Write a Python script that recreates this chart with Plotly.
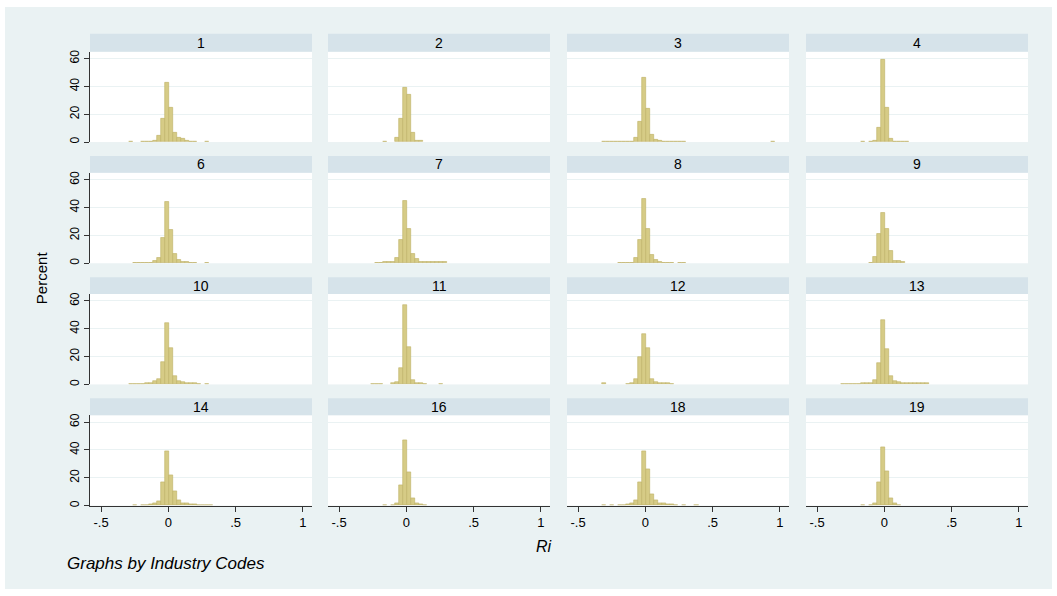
import plotly.graph_objects as go

W, H = 1057, 596

# ---------------- data ----------------
industry_codes = ["1", "2", "3", "4", "6", "7", "8", "9", "10", "11", "12", "13", "14", "16", "18", "19"]

# histogram bin centres (Ri), bin width 0.03
bin_centers = [-0.31, -0.28, -0.25, -0.22, -0.19, -0.16, -0.13, -0.10, -0.07, -0.04, -0.01,
               0.02, 0.05, 0.08, 0.11, 0.14, 0.17, 0.20, 0.23, 0.26, 0.29, 0.32, 0.35, 0.38, 0.95]
bin_width = 0.03

pct_1 = [0, 0.3, 0, 0, 0.3, 0.3, 0.5, 1, 4.5, 17, 43, 24.5, 7, 3, 2.5, 1.2, 0.6, 0.3, 0, 0, 0.5, 0, 0, 0, 0]
pct_2 = [0, 0, 0, 0, 0, 0.5, 0, 0, 3.5, 17, 39, 34, 6.5, 1, 1, 0, 0, 0, 0, 0, 0, 0, 0, 0, 0]
pct_3 = [0.3, 0.3, 0.3, 0.3, 0.3, 0.3, 0.3, 0.3, 3, 14.5, 46, 24, 5, 2, 0.8, 0.3, 0.3, 0.3, 0.3, 0.3, 0.3, 0, 0, 0, 0.5]
pct_4 = [0, 0, 0, 0, 0, 0.3, 0, 0.5, 1, 10.5, 59, 24.5, 2.5, 0.6, 0.5, 0.3, 0.3, 0, 0, 0, 0, 0, 0, 0, 0]
pct_6 = [0, 0, 0.5, 0.5, 0.3, 0.3, 0.5, 1.5, 4, 18, 44, 24, 6.5, 2.5, 1, 0.8, 0.6, 0.5, 0, 0, 0.5, 0, 0, 0, 0]
pct_7 = [0, 0, 0, 0.4, 0.4, 0.8, 1, 1, 4, 17, 45, 25, 7, 3, 0.7, 0.7, 0.7, 0.7, 0.7, 0.7, 0.7, 0, 0, 0, 0]
pct_8 = [0, 0, 0, 0, 0.5, 0.5, 0.5, 0.5, 4, 17, 46, 25, 6, 2.5, 1, 0.5, 0.5, 0.5, 0, 0.5, 0.5, 0, 0, 0, 0]
pct_9 = [0, 0, 0, 0, 0, 0, 0, 0.5, 4.5, 21, 36, 25, 9, 1.5, 1.5, 1, 0, 0, 0, 0, 0, 0, 0, 0, 0]
pct_10 = [0, 0.3, 0.3, 0.5, 0.5, 0.7, 1, 2.5, 4, 16, 44.5, 26, 6, 2.5, 1.5, 1.2, 1, 0.8, 0.5, 0, 0.5, 0, 0, 0, 0]
pct_11 = [0, 0, 0.4, 0.4, 0.3, 0, 0, 0.8, 1.5, 12, 57, 27, 3, 1, 0.8, 0.3, 0, 0, 0, 0.5, 0, 0, 0, 0, 0]
pct_12 = [1, 0, 0, 0, 0, 0, 0.5, 1, 4, 20, 36, 26, 4, 1.5, 1, 1, 0.8, 0.5, 0, 0, 0, 0, 0, 0, 0]
pct_13 = [0.3, 0.3, 0.3, 0.3, 0.5, 0.7, 1, 1, 3.2, 15.5, 46, 25.7, 6, 2.5, 1.5, 0.7, 0.7, 0.7, 0.7, 0.7, 0.7, 0.7, 0, 0, 0]
pct_14 = [0, 0, 0.3, 0, 0.3, 0.5, 0.8, 1.5, 3, 17, 39, 22, 10, 4, 2, 1.5, 1, 0.8, 0.6, 0.5, 0.5, 0.3, 0, 0, 0]
pct_16 = [0, 0, 0, 0, 0, 0.3, 0, 0.5, 2, 15, 47, 24, 5, 2, 1, 0.5, 0, 0, 0, 0, 0, 0, 0, 0, 0]
pct_18 = [0.3, 0, 0.3, 0, 0.5, 0.5, 1, 1.5, 4, 17, 39, 26, 8, 4, 2, 1.5, 1, 0.8, 0.5, 0, 0.5, 0, 0, 0.3, 0]
pct_19 = [0, 0, 0, 0, 0, 0.3, 0, 0.5, 2, 17, 42, 25, 5, 1.5, 0.5, 0, 0, 0, 0, 0, 0, 0, 0, 0, 0]

percents = [pct_1, pct_2, pct_3, pct_4, pct_6, pct_7, pct_8, pct_9,
            pct_10, pct_11, pct_12, pct_13, pct_14, pct_16, pct_18, pct_19]

x_tickvals = [-0.5, 0, 0.5, 1]
x_ticktext = ["-.5", "0", ".5", "1"]
y_tickvals = [0, 20, 40, 60]

# ---------------- layout geometry (pixels) ----------------
col_px = [(90, 312), (328, 550), (567, 789), (806, 1028)]
row_px = [(32, 50, 141), (155, 172, 263), (277, 294, 385), (399, 416, 507)]  # header top, plot top, plot bottom

BG = "#eaf2f3"
STRIP = "#d6e3ea"
BAR_FILL = "rgb(214,203,134)"
BAR_LINE = "rgb(190,176,100)"
FONT = "Liberation Sans, Arial, sans-serif"

def fx(px):
    return px / W

def fy(py):
    return 1 - py / H

fig = go.Figure()
layout = {}
shapes = []
annotations = []

for i, (code, pct) in enumerate(zip(industry_codes, percents)):
    r, c = divmod(i, 4)
    n = i + 1
    xa = "xaxis" if n == 1 else f"xaxis{n}"
    ya = "yaxis" if n == 1 else f"yaxis{n}"
    xr = "x" if n == 1 else f"x{n}"
    yr = "y" if n == 1 else f"y{n}"
    x0, x1 = col_px[c]
    htop, ptop, pbot = row_px[r]

    xs = [b for b, v in zip(bin_centers, pct) if v > 0]
    ys = [v for v in pct if v > 0]
    fig.add_trace(go.Bar(
        x=xs, y=ys, width=bin_width,
        marker=dict(color=BAR_FILL, line=dict(color=BAR_LINE, width=0.6)),
        xaxis=xr, yaxis=yr, showlegend=False, hoverinfo="x+y",
    ))

    bottom = (r == 3)
    left = (c == 0)
    layout[xa] = dict(
        domain=[fx(x0), fx(x1)], anchor=yr, range=[-0.582, 1.067],
        showgrid=False, zeroline=False,
        tickvals=x_tickvals, ticktext=x_ticktext,
        showticklabels=bottom, ticks="outside" if bottom else "",
        ticklen=5, tickcolor="#333333", tickwidth=1,
        showline=bottom, linecolor="#333333", linewidth=1,
        tickfont=dict(family=FONT, size=13, color="black"),
        fixedrange=True,
    )
    layout[ya] = dict(
        domain=[fy(pbot), fy(ptop)], anchor=xr, range=[0, 65],
        tickvals=y_tickvals, showgrid=True, gridcolor=BG, gridwidth=1,
        zeroline=False,
        showticklabels=left, ticks="outside" if left else "",
        ticklen=5, tickcolor="#333333", tickwidth=1,
        showline=left, linecolor="#333333", linewidth=1,
        tickangle=-90,
        tickfont=dict(family=FONT, size=12, color="black"),
        fixedrange=True,
    )
    # header strip
    shapes.append(dict(type="rect", xref="paper", yref="paper",
                       x0=fx(x0), x1=fx(x1), y0=fy(ptop), y1=fy(htop),
                       fillcolor=STRIP, line=dict(width=0), layer="below"))
    annotations.append(dict(text=code, xref="paper", yref="paper",
                            x=fx((x0 + x1) / 2), y=fy((htop + ptop) / 2),
                            xanchor="center", yanchor="middle", showarrow=False,
                            font=dict(family=FONT, size=14, color="black")))

# white outer border
shapes.append(dict(type="rect", xref="paper", yref="paper", x0=0, x1=1, y0=0, y1=1,
                   line=dict(color="white", width=10), fillcolor="rgba(0,0,0,0)", layer="above"))

annotations.append(dict(text="Percent", xref="paper", yref="paper", x=fx(41), y=fy(278),
                        textangle=-90, showarrow=False, xanchor="center", yanchor="middle",
                        font=dict(family=FONT, size=15, color="black")))
annotations.append(dict(text="<i>Ri</i>", xref="paper", yref="paper", x=fx(544), y=fy(548),
                        showarrow=False, xanchor="center", yanchor="middle",
                        font=dict(family=FONT, size=16, color="black")))
annotations.append(dict(text="<i>Graphs by Industry Codes</i>", xref="paper", yref="paper",
                        x=fx(65), y=fy(565), showarrow=False, xanchor="left", yanchor="middle",
                        font=dict(family=FONT, size=17, color="black")))

fig.update_layout(
    width=W, height=H,
    margin=dict(l=0, r=0, t=0, b=0),
    paper_bgcolor=BG, plot_bgcolor="white",
    bargap=0, barmode="overlay",
    shapes=shapes, annotations=annotations,
    **layout,
)

fig.write_html("out.html", config={"displayModeBar": False},
               post_script="document.body.style.margin='0';document.body.style.overflow='hidden';")
